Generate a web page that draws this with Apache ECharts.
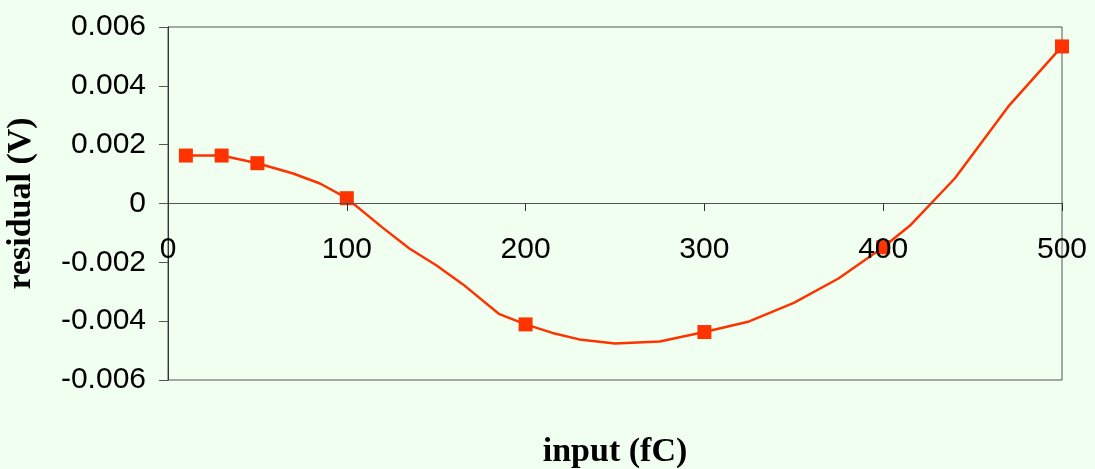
<!DOCTYPE html>
<html>
<head>
<meta charset="utf-8">
<script src="https://cdn.jsdelivr.net/npm/echarts@6/dist/echarts.min.js"></script>
<style>
html,body{margin:0;padding:0;background:#f0fff0;}
#chart{width:1095px;height:469px;}
</style>
</head>
<body>
<div id="chart"></div>
<script>
// measured data points (input fC, residual V)
const dataX = [10, 30, 50, 100, 200, 300, 400, 500];
const dataY = [0.00163, 0.00163, 0.00137, 0.00018, -0.00411, -0.00437, -0.00149, 0.00534];

// smoothed curve vertices
const curveX = [10, 30, 50, 70, 85, 100, 120, 135, 150, 165, 185, 200, 215, 230, 250, 275, 300, 325, 350, 375, 400, 415, 440, 470, 500];
const curveY = [0.00163, 0.00163, 0.00137, 0.00102, 0.00068, 0.00018, -0.00082, -0.00153, -0.0021, -0.00275, -0.00375, -0.00411, -0.0044, -0.00462, -0.00476, -0.00469, -0.00437, -0.00401, -0.00338, -0.00255, -0.00149, -0.00075, 0.00085, 0.0033, 0.00534];

const xTickLabels = ['0', '100', '200', '300', '400', '500'];
const yTickLabels = ['-0.006', '-0.004', '-0.002', '0', '0.002', '0.004', '0.006'];

const chart = echarts.init(document.getElementById('chart'), null, {renderer: 'canvas'});
chart.setOption({
  backgroundColor: '#f0fff0',
  animation: false,
  grid: {left: 168, right: 33, top: 27, bottom: 89, show: true, borderColor: '#555', borderWidth: 1,
         backgroundColor: 'transparent', containLabel: false, outerBoundsMode: 'none'},
  xAxis: {
    type: 'value', min: 0, max: 500, interval: 100, z: 5,
    position: 'bottom', offset: -177,
    axisLine: {onZero: false, lineStyle: {color: '#555', width: 1}},
    axisTick: {show: true, length: 8, lineStyle: {color: '#333'}},
    splitLine: {show: false},
    axisLabel: {
      margin: 32, color: '#000', fontSize: 30, fontFamily: 'Liberation Sans, Arial, sans-serif',
      formatter: v => xTickLabels[Math.round(v / 100)]
    },
    name: 'input (fC)', nameLocation: 'middle', nameGap: 232,
    nameTextStyle: {fontFamily: 'Liberation Serif, Times New Roman, serif', fontWeight: 'bold', fontSize: 34, color: '#000'}
  },
  yAxis: {
    type: 'value', min: -0.006, max: 0.006, interval: 0.002,
    axisLine: {onZero: false, lineStyle: {color: '#333', width: 1}},
    axisTick: {show: true, length: 9, lineStyle: {color: '#555'}},
    splitLine: {show: false},
    axisLabel: {
      margin: 22, color: '#000', fontSize: 30, fontFamily: 'Liberation Sans, Arial, sans-serif',
      formatter: v => yTickLabels[Math.round(v / 0.002) + 3]
    },
    name: 'residual (V)', nameLocation: 'middle', nameGap: 130, nameRotate: 90,
    nameTextStyle: {fontFamily: 'Liberation Serif, Times New Roman, serif', fontWeight: 'bold', fontSize: 34, color: '#000'}
  },
  series: [
    {
      type: 'line', name: 'fit', data: curveX.map((x, i) => [x, curveY[i]]),
      showSymbol: false, symbol: 'none', smooth: false,
      lineStyle: {color: '#ff3300', width: 2.5}, z: 2
    },
    {
      type: 'scatter', name: 'data', data: dataX.map((x, i) => [x, dataY[i]]),
      symbol: 'rect', symbolSize: 14,
      itemStyle: {color: '#ff3300', opacity: 1}, z: 3
    }
  ]
});
</script>
</body>
</html>
